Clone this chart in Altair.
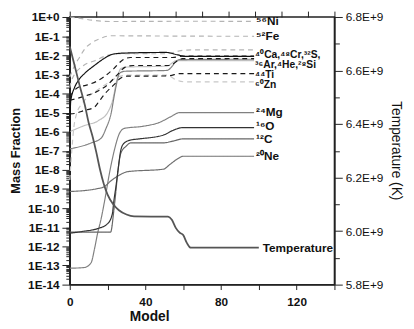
import altair as alt
import pandas as pd

FONT = "Liberation Sans"

# ---- mass-fraction series: model number (x) and mass fraction (y) ----
ni_x = [0, 6.4, 11.6, 22, 40, 60, 97.5]
ni_y = [1.0, 0.82, 0.68, 0.58, 0.59, 0.60, 0.59]

fe_x = [0, 2.6, 5.2, 8.3, 11.6, 16.7, 21.9, 29, 60, 97.5]
fe_y = [7.2e-4, 2.9e-3, 7.9e-3, 2.4e-2, 4.4e-2, 7.9e-2, 0.105, 0.104, 0.100, 0.098]

s_x = [0, 1, 7.3, 13.3, 19.2, 25.4, 51.3, 58, 64.3, 97.5]
s_y = [2.0e-4, 5.0e-4, 2.9e-3, 5.2e-3, 9.3e-3, 1.2e-2, 1.2e-2, 1.7e-2, 1.9e-2, 1.9e-2]

zn_x = [0, 1, 2.1, 3.6, 6.2, 9.9, 15, 20.2, 25.4, 30.6, 51.3, 56.5, 61.7, 97.5]
zn_y = [3.0e-9, 7.9e-8, 1.5e-6, 8.5e-6, 2.7e-5, 6.9e-5, 1.6e-4, 3.5e-4, 7.2e-4, 9.1e-4, 9.1e-4, 5.0e-4, 4.0e-4, 4.0e-4]

ca_x = [0, 4.1, 9.3, 14, 18.1, 23.3, 27.5, 32.1, 54.4, 59.6, 97.5]
ca_y = [6.9e-5, 2.0e-4, 2.8e-4, 4.2e-4, 7.4e-4, 2.0e-3, 5.2e-3, 7.6e-3, 7.6e-3, 8.9e-3, 8.9e-3]

cr_x = [0, 7.8, 14.7, 19.9, 25, 29.4, 33.7, 52.4, 59.6, 97.5]
cr_y = [4.4e-5, 7.2e-5, 1.3e-4, 2.8e-4, 9.1e-4, 2.4e-3, 2.9e-3, 2.9e-3, 6.6e-3, 6.6e-3]

ti_x = [0, 2.6, 7.8, 13, 15.6, 19, 23.3, 26.8, 30.2, 50, 53, 58, 97.5]
ti_y = [8.5e-6, 9.0e-6, 1.3e-5, 1.9e-5, 4.0e-5, 1.07e-4, 2.8e-4, 6.2e-4, 8.0e-4, 8.2e-4, 8.5e-4, 1.1e-3, 1.1e-3]

he_x = [0, 0.5, 2.5, 4.7, 8, 13, 18, 23, 29, 51, 57, 61, 97.5]
he_y = [8.2e-7, 3.9e-5, 2.0e-4, 5.0e-4, 1.15e-3, 2.9e-3, 6.6e-3, 1.15e-2, 1.3e-2, 1.4e-2, 1.05e-2, 8.7e-3, 8.7e-3]

si_x = [0, 11.4, 16.6, 19.2, 21.8, 23.9, 26.4, 29, 51.3, 58, 97.5]
si_y = [1.26e-7, 2.6e-7, 4.6e-7, 1.5e-6, 8.5e-6, 1.2e-4, 1.15e-3, 1.45e-3, 1.6e-3, 5.9e-3, 6.2e-3]

ar_x = [0, 7.8, 15, 20.2, 22.8, 24.9, 27, 29.6, 51.3, 56.5, 97.5]
ar_y = [1.0e-6, 2.1e-6, 3.7e-6, 1.07e-5, 4.9e-5, 5.0e-4, 2.0e-3, 2.4e-3, 2.7e-3, 5.2e-3, 5.2e-3]

mg_x = [0, 7.8, 11.3, 13, 14.7, 16.6, 18.4, 21.1, 23.7, 26.3, 28.9, 38.4, 47.9, 53, 58.2, 97.5]
mg_y = [7.2e-14, 7.9e-14, 1.4e-13, 6.7e-13, 4.7e-12, 2.8e-11, 2.3e-10, 7.6e-9, 1.2e-7, 8.2e-7, 1.5e-6, 1.9e-6, 3.2e-6, 5.8e-6, 1.0e-5, 1.0e-5]

o_x = [0, 7.3, 14.7, 19.9, 22.5, 23.3, 24.4, 25.4, 27.1, 28.9, 32.3, 35.8, 49.6, 54.8, 60, 97.5]
o_y = [4.9e-12, 6.2e-12, 8.5e-12, 1.5e-11, 4.9e-11, 2.3e-10, 1.3e-9, 7.6e-9, 1.2e-7, 2.6e-7, 3.7e-7, 4.1e-7, 6.7e-7, 1.2e-6, 1.65e-6, 1.65e-6]

c_x = [0, 21.6, 23.3, 24.4, 25.4, 27.1, 29.7, 32.3, 49.6, 53.9, 60, 97.5]
c_y = [5.6e-12, 5.6e-12, 7.2e-11, 7.4e-10, 7.6e-9, 7.9e-8, 1.7e-7, 2.6e-7, 2.6e-7, 3.1e-7, 4.2e-7, 4.2e-7]

ne_x = [0, 14.5, 18.1, 21.8, 26.3, 30.6, 49.6, 53, 56.5, 60, 97.5]
ne_y = [7.4e-10, 1.05e-9, 1.3e-9, 2.7e-9, 5.4e-9, 8.1e-9, 1.1e-8, 1.95e-8, 3.5e-8, 5.2e-8, 5.2e-8]

# ---- temperature (K) ----
temp_x = [0, 2, 5, 8, 10, 12, 14, 16, 18, 20, 23, 26, 30, 34, 52, 54, 56, 58, 60, 62, 64, 100]
temp_y = [6.69e9, 6.635e9, 6.55e9, 6.47e9, 6.405e9, 6.355e9, 6.296e9, 6.23e9, 6.176e9, 6.136e9,
          6.10e9, 6.078e9, 6.062e9, 6.055e9, 6.054e9, 6.042e9, 6.013e9, 5.995e9, 5.985e9,
          5.955e9, 5.938e9, 5.938e9]

# ---- right-hand labels ----
label_text = ["⁵⁶Ni", "⁵²Fe", "²⁴Mg", "¹⁶O", "¹²C", "²⁰Ne"]
label_y = [0.63, 0.10, 1.1e-5, 1.96e-6, 4.3e-7, 5.6e-8]
label_x = [97.5] * len(label_text)
group_text = ["⁴⁰Ca,⁴⁸Cr,³²S,", "³⁶Ar,⁴He,²⁸Si", "⁴⁴Ti", "⁶⁰Zn"]
group_y = [1.0e-2, 3.1e-3, 9.1e-4, 2.6e-4]
group_x = [97.5, 97.5, 97.5, 97.5]
temp_label = ["Temperature"]
temp_label_y = [5.935e9]
temp_label_x = [100]

series = [
    ("Ni", ni_x, ni_y, "#b4b4b4", [5, 4]),
    ("Fe", fe_x, fe_y, "#b4b4b4", [5, 4]),
    ("S", s_x, s_y, "#b4b4b4", [5, 4]),
    ("Zn", zn_x, zn_y, "#c8c8c8", [5, 4]),
    ("Ar", ar_x, ar_y, "#c0c0c0", [1, 0]),
    ("Si", si_x, si_y, "#808080", [1, 0]),
    ("Mg", mg_x, mg_y, "#808080", [1, 0]),
    ("Ne", ne_x, ne_y, "#707070", [1, 0]),
    ("C", c_x, c_y, "#666666", [1, 0]),
    ("O", o_x, o_y, "#333333", [1, 0]),
    ("Ca", ca_x, ca_y, "#1a1a1a", [5, 4]),
    ("Cr", cr_x, cr_y, "#1a1a1a", [5, 4]),
    ("Ti", ti_x, ti_y, "#1a1a1a", [5, 4]),
    ("He", he_x, he_y, "#111111", [1, 0]),
]

rows = []
for name, xs, ys, _, _ in series:
    for xv, yv in zip(xs, ys):
        rows.append({"series": name, "model": xv, "frac": yv})
mass_df = pd.DataFrame(rows)
temp_df = pd.DataFrame({"model": temp_x, "temp": temp_y})
lab_df = pd.DataFrame({"model": label_x, "frac": label_y, "label": label_text})
grp_df = pd.DataFrame({"model": group_x, "frac": group_y, "label": group_text})
tlab_df = pd.DataFrame({"model": temp_label_x, "temp": temp_label_y, "label": temp_label})

names = [s[0] for s in series]
colors = [s[3] for s in series]
dashes = [s[4] for s in series]

xscale = alt.Scale(domain=[0, 140], nice=False, zero=False)
yscale = alt.Scale(type="log", domain=[1e-14, 1], nice=False)
tscale = alt.Scale(domain=[5.8e9, 6.8e9], nice=False, zero=False)

decades = [10.0 ** (-k) for k in range(0, 15)]
minors = [m * 10.0 ** (-k) for k in range(1, 15) for m in range(2, 10)]
t_major = [5.8e9, 6.0e9, 6.2e9, 6.4e9, 6.6e9, 6.8e9]
t_minor = [5.9e9, 6.1e9, 6.3e9, 6.5e9, 6.7e9]
top_ticks = [0, 14, 28, 42, 56, 70, 84, 98, 112, 126, 140]

lines = alt.Chart(mass_df).mark_line(interpolate="monotone", strokeWidth=1.2).encode(
    x=alt.X("model:Q", scale=xscale, axis=alt.Axis(
        orient="bottom", values=list(range(0, 141, 20)),
        labelExpr="datum.value % 40 == 0 ? datum.label : ''",
        title="Model", titleX=81, titleY=33, titleBaseline="middle", titleAlign="center",
        titleFontSize=14, titleFontWeight="bold",
        tickSize=5, labelPadding=7, labelFlush=False, labelOverlap=False,
        labelFontSize=12, labelFontWeight="bold", grid=False)),
    y=alt.Y("frac:Q", scale=yscale, axis=alt.Axis(
        orient="left", values=decades,
        labelExpr="'1E' + (round(log(datum.value)/LN10) >= 0 ? '+' : '') + round(log(datum.value)/LN10)",
        title="Mass Fraction", titleX=-55, titleY=136, titleAngle=270,
        titleBaseline="middle", titleAlign="center",
        titleFontSize=13, titleFontWeight="bold",
        tickSize=8, labelPadding=3, labelFlush=False, labelOverlap=False,
        labelFontSize=12, labelFontWeight="bold", grid=False)),
    color=alt.Color("series:N", scale=alt.Scale(domain=names, range=colors), legend=None),
    strokeDash=alt.StrokeDash("series:N", scale=alt.Scale(domain=names, range=dashes), legend=None),
)

left_minor = alt.Chart(mass_df).mark_point(opacity=0).encode(
    x=alt.X("model:Q", scale=xscale, axis=None),
    y=alt.Y("frac:Q", scale=yscale, axis=alt.Axis(
        orient="left", values=minors, labels=False, tickSize=4, domain=False,
        grid=False, title=None)),
)

top_axis = alt.Chart(mass_df).mark_point(opacity=0).encode(
    x=alt.X("model:Q", scale=xscale, axis=alt.Axis(
        orient="top", values=top_ticks, labels=False, tickSize=6, domain=False,
        grid=False, title=None)),
    y=alt.Y("frac:Q", scale=yscale, axis=None),
)

temp_line = alt.Chart(temp_df).mark_line(
    interpolate="monotone", strokeWidth=1.8, color="#555555"
).encode(
    x=alt.X("model:Q", scale=xscale, axis=None),
    y=alt.Y("temp:Q", scale=tscale, axis=alt.Axis(
        orient="right", values=t_major,
        labelExpr="format(datum.value/1e9, '.1f') + 'E+9'",
        title="Temperature (K)", titleX=62, titleY=136, titleAngle=90,
        titleBaseline="middle", titleAlign="center",
        titleFontSize=14, titleFontWeight="normal",
        tickSize=8, labelPadding=3, labelFlush=False, labelOverlap=False,
        labelFontSize=12, labelFontWeight="normal", grid=False)),
)

right_minor = alt.Chart(temp_df).mark_point(opacity=0).encode(
    x=alt.X("model:Q", scale=xscale, axis=None),
    y=alt.Y("temp:Q", scale=tscale, axis=alt.Axis(
        orient="right", values=t_minor, labels=False, tickSize=5, domain=False,
        grid=False, title=None)),
)

labels = alt.Chart(lab_df).mark_text(
    align="left", baseline="middle", dx=2, font=FONT, fontSize=12,
    fontWeight="bold", color="#111111"
).encode(
    x=alt.X("model:Q", scale=xscale, axis=None),
    y=alt.Y("frac:Q", scale=yscale, axis=None),
    text="label:N",
)

group_labels = alt.Chart(grp_df).mark_text(
    align="left", baseline="middle", dx=1, font=FONT, fontSize=10.5,
    fontWeight="bold", color="#111111"
).encode(
    x=alt.X("model:Q", scale=xscale, axis=None),
    y=alt.Y("frac:Q", scale=yscale, axis=None),
    text="label:N",
)

temp_labels = alt.Chart(tlab_df).mark_text(
    align="left", baseline="middle", dx=4, font=FONT, fontSize=12,
    fontWeight="bold", color="#111111"
).encode(
    x=alt.X("model:Q", scale=xscale, axis=None),
    y=alt.Y("temp:Q", scale=tscale, axis=None),
    text="label:N",
)

chart = alt.layer(
    lines, left_minor, top_axis, temp_line, right_minor, labels, group_labels, temp_labels
).resolve_scale(
    x="independent", y="independent"
).properties(
    width=270, height=273,
    autosize=alt.AutoSizeParams(type="none"),
    padding={"left": 63, "top": 6, "right": 73, "bottom": 38},
).configure_view(
    stroke="#222222", strokeWidth=1.5
).configure_axis(
    domainColor="#222222", domainWidth=1.5, tickColor="#222222", tickWidth=1,
    labelColor="#111111", titleColor="#111111", labelFont=FONT, titleFont=FONT,
)

chart.save("out.html", embed_options={"renderer": "svg", "actions": False})
